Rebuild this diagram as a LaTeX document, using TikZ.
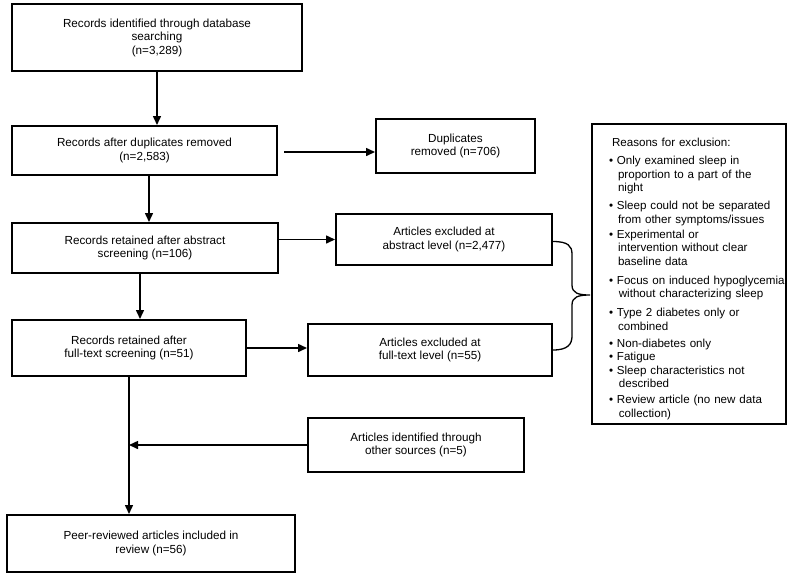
\documentclass[tikz,border=0pt]{standalone}
\usepackage{fontspec}
\setmainfont{Liberation Sans}
\usetikzlibrary{arrows.meta}
\tikzset{
  stagebox/.style={draw, line width=2pt, align=center, inner sep=2pt,
    font=\fontsize{11.7}{13.5}\selectfont},
  flowarrow/.style={line width=1.5pt, -{Triangle[length=9pt,width=8pt]}},
}
\newcommand{\rbul}{\hspace*{25pt}\textbullet\ }
\newcommand{\rcont}[1][9pt]{\hspace*{\dimexpr 25pt+#1\relax}}

\begin{document}
\begin{tikzpicture}[x=1pt,y=-1pt]
    \useasboundingbox (0,0) rectangle (793,574);
    % Main column
    \node[stagebox, minimum width=290pt, minimum height=67pt] (ident) at (157,37.5)
        {Records identified through database\\searching\\(n=3,289)};
    \node[stagebox, minimum width=265pt, minimum height=49pt] (dedup) at (144.5,150.5)
        {Records after duplicates removed\\(n=2,583)};
    \node[stagebox, minimum width=266pt, minimum height=50pt] (absrt) at (145,248)
        {Records retained after abstract\\screening (n=106)};
    \node[stagebox, minimum width=234pt, minimum height=56pt] (fullrt) at (129,348)
        {Records retained after\\full-text screening (n=51)};
    \node[stagebox, minimum width=288pt, minimum height=57pt] (incl) at (151,543.5)
        {Peer-reviewed articles included in\\review (n=56)};
    % Side boxes
    \node[stagebox, minimum width=159pt, minimum height=54pt] (dupx) at (455.5,146)
        {Duplicates\\removed (n=706)};
    \node[stagebox, minimum width=216pt, minimum height=51pt] (absx) at (444,239.5)
        {Articles excluded at\\abstract level (n=2,477)};
    \node[stagebox, minimum width=244pt, minimum height=52pt] (fullx) at (430,350)
        {Articles excluded at\\full-text level (n=55)};
    \node[stagebox, minimum width=216pt, minimum height=54pt] (other) at (416,445)
        {Articles identified through\\other sources (n=5)};
    \node[stagebox, minimum width=194pt, minimum height=300pt] (rsn) at (689,274) {};
    \node[font=\fontsize{11.6}{13.5}\selectfont, align=left,
          text width=210pt, inner sep=0pt] (rsntxt) at ([yshift=-5pt]rsn.center)
        {\hyphenpenalty=10000\relax
         \hspace*{28pt}Reasons for exclusion:\\[4.5pt]
         \rbul Only examined sleep in\\
         \rcont proportion to a part of the\\
         \rcont night\\[4.5pt]
         \rbul Sleep could not be separated\\
         \rcont from other symptoms/issues\\[1.5pt]
         \rbul Experimental or\\
         \rcont intervention without clear\\
         \rcont baseline data\\[5.5pt]
         \rbul Focus on induced hypoglycemia\\
         \rcont[6pt] without characterizing sleep\\[5.5pt]
         \rbul Type 2 diabetes only or\\
         \rcont combined\\[3.5pt]
         \rbul Non-diabetes only\\
         \rbul Fatigue\\
         \rbul Sleep characteristics not\\
         \rcont[6pt] described\\[2.5pt]
         \rbul Review article (no new data\\
         \rcont[6pt] collection)};
    \coordinate (tip) at (590,295);

    % Arrows
    \draw[flowarrow] (ident.south) -- (ident.south |- dedup.north);
    \draw[flowarrow, shorten <=6pt] ([yshift=-1.5pt]dedup.east) -- ([yshift=-1.5pt]dedup.east -| dupx.west);
    \draw[flowarrow] ([xshift=4.5pt]dedup.south) -- ([xshift=4.5pt]dedup.south |- absrt.north);
    \draw[flowarrow] (absrt.east |- absx.west) -- (absx.west);
    \draw[flowarrow] ([xshift=-5pt]absrt.south) -- ([xshift=-5pt]absrt.south |- fullrt.north);
    \draw[flowarrow] (fullrt.east) -- (fullrt.east -| fullx.west);
    \draw[flowarrow] (fullrt.south) -- (fullrt.south |- incl.north);
    \draw[flowarrow] (other.west) -- (other.west -| fullrt.south);

    % Brace
    \draw[line width=1.3pt] ([yshift=-2pt]absx.east) .. controls +(15,0) and +(0,-8) .. (572,254)
        -- (572,285) .. controls +(0,8) and +(-12,0) .. (tip)
        .. controls +(-12,0) and +(0,-8) .. (572,305)
        -- (572,336) .. controls +(0,8) and +(15,0) .. (fullx.east);
\end{tikzpicture}
\end{document}
